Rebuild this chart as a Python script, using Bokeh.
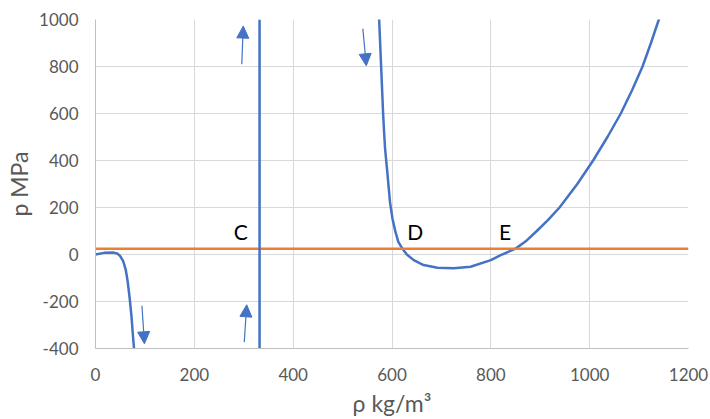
from bokeh.plotting import figure
from bokeh.models import Range1d, FixedTicker, Span, Arrow, NormalHead, ColumnDataSource
from bokeh.embed import file_html
from bokeh.resources import INLINE
from bokeh.core.properties import value

# ---- data ----
left_rho = [0, 17, 37, 45, 50, 56, 61, 65, 69, 73, 76, 78, 80]
left_p = [0, 7, 8, 3, -7, -28, -63, -113, -183, -267, -352, -401, -450]

right_rho = [572, 574, 576, 578, 580, 582, 584, 586, 590, 593, 596, 601, 607,
             613, 622, 630, 644, 664, 692, 725, 759, 800, 820, 850, 870, 893,
             915, 939, 975, 1007, 1036, 1063, 1086, 1107, 1124, 1140, 1150]
right_p = [1100, 1000, 900, 800, 700, 600, 520, 450, 362, 292, 222, 152, 96,
           53, 22, 0, -24, -45, -56, -59, -52, -24, -3, 25, 55, 100,
           145, 200, 300, 400, 500, 600, 700, 800, 900, 1000, 1060]

vertical_rho = 332       # vertical line C
pressure_line = 25       # horizontal (orange) pressure level

label_text = ["C", "D", "E"]
label_rho = [294, 647, 829]
label_p = [100, 97, 97]

# arrows: (rho_start, p_start) -> (rho_end, p_end)
arrow_rho0 = [296, 301, 541, 94]
arrow_p0 = [810, -373, 961, -218]
arrow_rho1 = [299, 306, 548, 99]
arrow_p1 = [972, -214, 803, -380]

x_ticks = [0, 200, 400, 600, 800, 1000, 1200]
x_tick_labels = ["0", "200", "400", "600", "800", "1000", "1200"]
y_ticks = [-400, -200, 0, 200, 400, 600, 800, 1000]
y_tick_labels = ["-400", "-200", "0", "200", "400", "600", "800", "1000"]

BLUE = "#4472C4"
ORANGE = "#ED7D31"
GRID = "#D9D9D9"
AXIS = "#BFBFBF"
TXT = "#595959"
FONT = "Lato"

p = figure(width=710, height=419, output_backend="svg", toolbar_location=None,
           x_range=Range1d(0, 1200), y_range=Range1d(-400, 1000),
           min_border_left=95, min_border_right=22, min_border_top=19,
           min_border_bottom=69)
p.outline_line_color = None
p.background_fill_color = "white"
p.border_fill_color = "white"

for g in (p.xgrid[0], p.ygrid[0]):
    g.grid_line_color = GRID
    g.grid_line_width = 1
p.xgrid[0].ticker = FixedTicker(ticks=x_ticks)
p.ygrid[0].ticker = FixedTicker(ticks=y_ticks)

for ax in (p.xaxis[0], p.yaxis[0]):
    ax.axis_line_color = AXIS
    ax.axis_line_width = 1
    ax.major_tick_line_color = None
    ax.minor_tick_line_color = None
    ax.major_tick_out = 0
    ax.major_tick_in = 0
    ax.major_label_text_font = FONT
    ax.major_label_text_font_size = "17px"
    ax.major_label_text_color = TXT
    ax.axis_label_text_font = FONT
    ax.axis_label_text_font_size = "23px"
    ax.axis_label_text_font_style = "normal"
    ax.axis_label_text_color = TXT

p.xaxis[0].ticker = FixedTicker(ticks=x_ticks)
p.yaxis[0].ticker = FixedTicker(ticks=y_ticks)
p.xaxis[0].major_label_overrides = {t: s for t, s in zip(x_ticks, x_tick_labels)}
p.yaxis[0].major_label_overrides = {t: s for t, s in zip(y_ticks, y_tick_labels)}
p.xaxis[0].axis_label = "ρ kg/m³"
p.yaxis[0].axis_label = "p MPa"
p.xaxis[0].major_label_standoff = 19
p.yaxis[0].major_label_standoff = 17
p.xaxis[0].axis_label_standoff = 5
p.yaxis[0].axis_label_standoff = 3

p.add_layout(Span(location=pressure_line, dimension="width", line_color=ORANGE,
                  line_width=2.5, level="glyph"))

p.line(left_rho, left_p, line_color=BLUE, line_width=2.5)
p.line(right_rho, right_p, line_color=BLUE, line_width=2.5)
p.add_layout(Span(location=vertical_rho, dimension="height", line_color=BLUE,
                  line_width=2.5, level="glyph"))

src = ColumnDataSource(dict(x=label_rho, y=label_p, t=label_text))
p.text(x="x", y="y", text="t", source=src, text_font=value(FONT),
       text_font_size="21px", text_color="black", text_align="center",
       text_baseline="middle")

for x0, y0, x1, y1 in zip(arrow_rho0, arrow_p0, arrow_rho1, arrow_p1):
    p.add_layout(Arrow(x_start=x0, y_start=y0, x_end=x1, y_end=y1,
                       line_color=BLUE, line_width=1.2,
                       end=NormalHead(size=12, fill_color=BLUE, line_color=BLUE,
                                      line_width=1)))

open("out.html", "w").write(file_html(p, INLINE))
